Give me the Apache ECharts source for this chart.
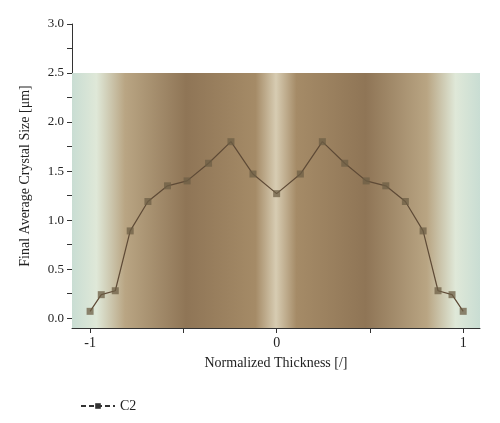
<!DOCTYPE html>
<html><head><meta charset="utf-8">
<script src="https://cdn.jsdelivr.net/npm/echarts@6/dist/echarts.min.js"></script>
<style>html,body{margin:0;background:#fff}#c{width:500px;height:423px}</style>
</head><body><div id="c"></div>
<script>
const thickness = [-1.0, -0.94, -0.865, -0.785, -0.69, -0.585, -0.48, -0.365, -0.245, -0.127, 0,
  0.127, 0.245, 0.365, 0.48, 0.585, 0.69, 0.785, 0.865, 0.94, 1.0];
const crystalSize = [0.07, 0.24, 0.28, 0.89, 1.19, 1.35, 1.40, 1.58, 1.80, 1.47, 1.27,
  1.47, 1.80, 1.58, 1.40, 1.35, 1.19, 0.89, 0.28, 0.24, 0.07];
const xLabels = { "-1": "-1", "0": "0", "1": "1" };

const chart = echarts.init(document.getElementById("c"));
const font = "Liberation Serif";
chart.setOption({
  animation: false,
  grid: { left: 72, right: 20, top: 24, bottom: 95 },
  xAxis: {
    type: "value", min: -1.097, max: 1.09,
    name: "Normalized Thickness [/]", nameLocation: "middle", nameGap: 28,
    nameTextStyle: { fontFamily: font, fontSize: 14, color: "#222" },
    axisLine: { onZero: false, lineStyle: { color: "#333" } },
    axisTick: { show: true, customValues: [-1, -0.5, 0, 0.5, 1], inside: false, length: 5 },
    axisLabel: { customValues: [-1, 0, 1], formatter: v => xLabels[String(v)] ?? "",
      fontFamily: font, fontSize: 14, color: "#222" },
    splitLine: { show: false }
  },
  yAxis: {
    type: "value", min: -0.1, max: 3.0,
    name: "Final Average Crystal Size [μm]", nameLocation: "middle", nameGap: 40,
    nameTextStyle: { fontFamily: font, fontSize: 14, color: "#222" },
    axisLine: { show: true, onZero: false, lineStyle: { color: "#333" } },
    axisTick: { show: true, customValues: [0, 0.25, 0.5, 0.75, 1, 1.25, 1.5, 1.75, 2, 2.25, 2.5, 2.75, 3], length: 5 },
    axisLabel: { customValues: [0, 0.5, 1, 1.5, 2, 2.5, 3], formatter: v => v.toFixed(1),
      fontFamily: font, fontSize: 13, color: "#222" },
    splitLine: { show: false }
  },
  legend: {
    left: 75, top: 394, itemWidth: 34, itemHeight: 7,
    textStyle: { fontFamily: font, fontSize: 14, color: "#222" },
    itemStyle: { color: "#333" },
    lineStyle: { color: "#333", type: [5, 3] },
    data: ["C2"]
  },
  series: [{
    name: "C2", type: "line",
    data: thickness.map((x, i) => [x, crystalSize[i]]),
    symbol: "rect", symbolSize: 7,
    lineStyle: { color: "#5e4a36", width: 1.2 },
    itemStyle: { color: "rgba(110,95,70,0.75)" },
    markArea: {
      silent: true,
      itemStyle: {
        color: new echarts.graphic.LinearGradient(0, 0, 1, 0, [
          { offset: 0, color: "#c9ddd3" },
          { offset: 0.06, color: "#dfe8d8" },
          { offset: 0.13, color: "#b9a583" },
          { offset: 0.28, color: "#8f7556" },
          { offset: 0.45, color: "#a58b67" },
          { offset: 0.5, color: "#d7ccb2" },
          { offset: 0.55, color: "#a58b67" },
          { offset: 0.72, color: "#8f7556" },
          { offset: 0.87, color: "#b9a583" },
          { offset: 0.94, color: "#dfe8d8" },
          { offset: 1, color: "#c9ddd3" }
        ])
      },
      data: [[{ coord: [-1.097, -0.1] }, { coord: [1.09, 2.5] }]]
    }
  }]
});
</script></body></html>
